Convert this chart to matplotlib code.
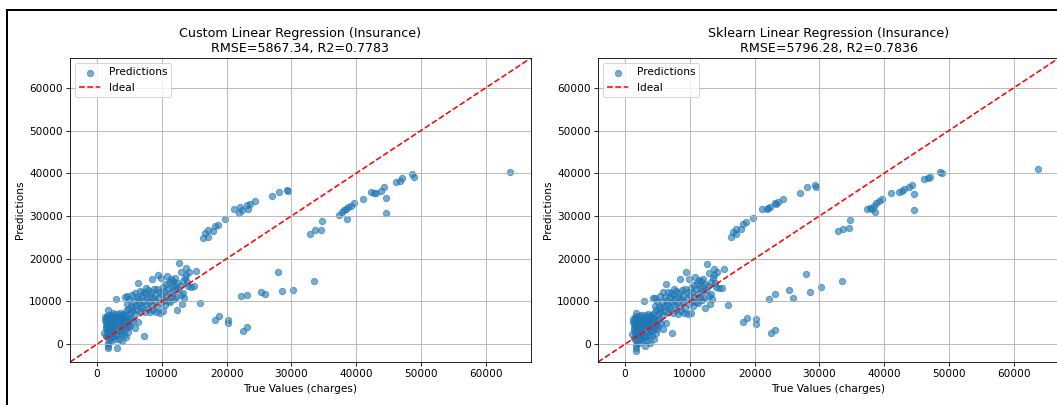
import numpy as np
import matplotlib.pyplot as plt
from matplotlib.lines import Line2D

# test set: true charges and the two models' predictions
true_vals = [
    # low charges
    1120, 1250, 1300, 1400, 1500, 1530, 1600, 1630, 1650, 1700, 1720, 1750, 1800, 1820,
    1880, 1900, 1950, 2000, 2050, 2100, 2130, 2200, 2250, 2300, 2350, 2400, 2450, 2500,
    1350, 1450, 1550, 1680, 1780, 1850, 2150, 2280, 2380, 2480, 1200, 1580,
    2600, 2650, 2700, 2750, 2800, 2900, 2950, 3000, 3050, 3100, 3150, 3200, 3250, 3300,
    3400, 3450, 3500, 3550, 3600, 3650, 3700, 3750, 3800, 3850, 3900, 3950, 4000, 4050,
    4100, 4150, 4200, 4250, 4300, 4350, 4400, 4450, 4500, 4550, 4600, 4650, 4700, 4750,
    4800, 4850, 4900, 4950,
    5050, 5100, 5200, 5300, 5350, 5400, 5500, 5600, 5700, 5800, 5850, 5900, 6000, 6100,
    6200, 6300, 6350, 6400, 6500, 6600, 6700, 6800, 6900, 7000, 7100, 7200, 7300, 7400,
    7500, 7600, 7700, 7800, 7900, 8000, 7350,
    8100, 8200, 8300, 8450, 8500, 8600, 8700, 8800, 8900, 9000, 9100, 9200, 9300, 9400,
    9500, 9600, 9700, 9800, 9900, 10000, 10100, 10200, 10300, 10400, 10500, 10600, 10700,
    10800, 10900, 11000,
    11100, 11200, 11300, 11400, 11500, 11600, 11700, 11800, 11900, 12000, 12100, 12200,
    12300, 12400, 12500, 12700, 12800, 12900, 13000, 13100, 13200, 13300, 13400, 13500,
    13700, 13900, 14000, 14200, 14500, 14900, 15300, 13800,
    # high charges
    63770, 48670, 48900, 47100, 46700, 46200, 44300, 43900, 43100, 42800, 42300, 41100,
    44600, 44600, 39600, 39200, 38800, 38500, 38200, 37800, 37300, 38600, 34800, 34500,
    33700, 32800, 33500, 30300, 28500, 28000, 26000, 25300, 23100, 22200, 23200, 22500,
    20200, 20200, 18800, 18200, 15900,
    29400, 29500, 28100, 27000, 24400, 23600, 23200, 23300, 22300, 22000, 21900, 21100,
    19800, 18600, 18200, 17900, 17200, 16700, 17100, 16300,
]

preds_custom = [
    2700, 6300, 4200, 5200, 3300, 6200, 1800, -950, 2500, 4600, 7900, -400, 5600, 3000,
    1200, 6800, 3900, 2200, 5000, 700, 6400, 3400, 4300, 1600, 5800, 2700, 7200, 3900,
    3800, 2000, 4800, 300, 5900, 4100, 2900, 6900, 4700, 1900, 5600, 6700,
    5200, 3000, 6300, 1300, 4400, 10500, 2400, 5800, 7100, -800, 3600, 6700, 2100, 4900,
    5500, 1100, 6100, 3200, 7400, 4300, 2600, 5600, 6800, 700, 4000, 5300, 7100, 3400,
    6200, 2200, 4800, 11100, 5900, 3600, 7700, 1700, 6500, 11200, 4300, 9300, 5100, 2900,
    8200, 6000, 10500, 3900,
    7200, 4500, 9000, 6100, 11400, 7800, 5300, 8600, 10000, 3800, 12000, 7100, 9200, 8000,
    11100, 5200, 14300, 9600, 10600, 7800, 12400, 9000, 11300, 8400, 12200, 10100, 2000, 11800,
    9500, 13100, 10800, 8200, 12600, 9900, 7600,
    11300, 7500, 12100, 15300, 9200, 10700, 8000, 12800, 10100, 11500, 7600, 13000, 8700, 16200,
    10800, 12300, 7400, 15600, 9600, 11800, 7700, 13400, 10300, 12500, 9100, 14100, 11200,
    16000, 13000, 10000,
    14600, 12000, 9800, 15200, 13300, 11300, 14900, 10500, 13800, 12600, 15500, 11000,
    14200, 8000, 12900, 18900, 13700, 11500, 16800, 9300, 14700, 12000, 10700, 15600,
    17800, 14500, 13600, 17000, 13300, 13500, 17100, 16300,
    40300, 39800, 39100, 38800, 38200, 38000, 36800, 35900, 35500, 35300, 35600, 34100,
    34300, 30800, 33000, 32300, 32000, 31700, 31400, 31000, 30300, 29400, 28800, 26700,
    26700, 25900, 14700, 12700, 12500, 16800, 11700, 12200, 11400, 11200, 3900, 3100,
    5600, 4900, 6500, 5600, 9600,
    36200, 35900, 35600, 34800, 33600, 32800, 32500, 31700, 31400, 32000, 30800, 31700,
    29200, 27800, 27700, 26500, 26700, 26100, 25200, 24800,
]

preds_sklearn = [
    2300, 5900, 3900, 4900, 2800, 5900, 1200, -1500, 2100, 4300, 7400, -1000, 5300, 2500,
    600, 6500, 3500, 1700, 4700, 200, 6100, 3000, 3900, 1100, 5500, 2300, 6900, 3500,
    3400, 1500, 4500, -200, 5600, 3700, 2500, 6600, 4300, 1500, 5200, 6400,
    4900, 2700, 6000, 900, 4100, 10200, 2000, 5500, 6800, -400, 3300, 6400, 1700, 4600,
    5200, 700, 5800, 2900, 7100, 4000, 2200, 5300, 6500, 300, 3700, 5000, 6800, 3100,
    5900, 1800, 4500, 10800, 5600, 3300, 7400, 1300, 6200, 10900, 4000, 9000, 4800, 2500,
    7900, 5700, 10200, 3600,
    7000, 4300, 8800, 5800, 11200, 7600, 5000, 8400, 9800, 3500, 12100, 6900, 9000, 7800,
    11000, 5000, 14000, 9400, 10400, 7600, 12300, 8800, 11100, 8200, 12000, 9900, 2500, 11600,
    9300, 13000, 10600, 8000, 12400, 9700, 7400,
    11100, 7000, 11900, 15200, 9000, 10500, 7800, 12600, 9900, 11300, 7200, 12800, 8500, 16900,
    10600, 12100, 7100, 15300, 9400, 11600, 7400, 13200, 10100, 12300, 8900, 13900, 11000,
    15700, 12800, 9800,
    14400, 11800, 9600, 15000, 13100, 11100, 14700, 10300, 13600, 12400, 15300, 10800,
    14000, 8400, 12700, 18700, 13500, 11300, 16600, 9500, 14500, 11800, 10500, 15400,
    17500, 14300, 13400, 16900, 13100, 13200, 17600, 16100,
    41000, 40400, 40000, 39100, 38800, 38600, 37200, 36700, 36300, 35900, 35600, 35300,
    35100, 31300, 34100, 33500, 33000, 32300, 31700, 31800, 31600, 30900, 29000, 27100,
    27000, 26500, 14700, 13300, 12300, 16500, 10900, 12700, 11800, 10600, 3300, 2700,
    6000, 4700, 6200, 5200, 9200,
    37200, 36900, 36800, 35300, 33900, 33300, 33000, 32700, 32200, 31800, 31600, 31700,
    29500, 28600, 28200, 26900, 27000, 26300, 25700, 25200,
]

model_names = ['Custom', 'Sklearn']
rmse_vals = [5867.34, 5796.28]
r2_vals = [0.7783, 0.7836]

W, H, DPI = 1057, 405, 75.5
fig = plt.figure(figsize=(W / DPI, H / DPI), dpi=DPI)
ax1 = fig.add_axes([70 / W, 1 - 362 / H, 461 / W, 304 / H])
ax2 = fig.add_axes([598 / W, 1 - 362 / H, 461 / W, 304 / H])

lo = min(min(true_vals), min(preds_custom))
hi = max(max(true_vals), max(preds_custom))
pad = 0.05 * (hi - lo)

for ax, preds, name, rmse, r2 in zip([ax1, ax2], [preds_custom, preds_sklearn],
                                     model_names, rmse_vals, r2_vals):
    ax.scatter(true_vals, preds, alpha=0.6, label='Predictions')
    # ideal line runs corner to corner
    ax.axline((lo, lo), (hi, hi), color='r', linestyle='--', label='Ideal')
    ax.set_xlim(lo - pad, hi + pad)
    ax.set_ylim(lo - pad, hi + pad)
    ax.set_xlabel('True Values (charges)')
    ax.set_ylabel('Predictions')
    ax.set_title(f'{name} Linear Regression (Insurance)\nRMSE={rmse:.2f}, R2={r2:.4f}')
    ax.legend(loc='upper left')
    ax.grid(True)

# black frame from the screenshot (top and left edges only)
lw = 2 * 72 / DPI
fig.add_artist(Line2D([7 / W, 1], [1 - 10 / H, 1 - 10 / H], color='black', lw=lw))
fig.add_artist(Line2D([7 / W, 7 / W], [0, 1 - 10 / H], color='black', lw=lw))

fig.savefig('out.png', dpi=DPI)
